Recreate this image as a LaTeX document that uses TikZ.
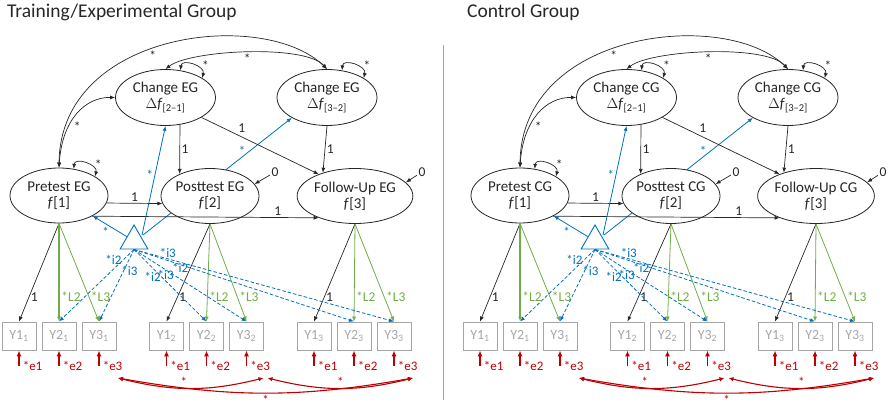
\documentclass[tikz,border=0pt]{standalone}
\usepackage{fontspec}
\setmainfont{Carlito}
\usepackage{tikz}
\usetikzlibrary{arrows.meta}
\usetikzlibrary{shapes}

\definecolor{pathblue}{RGB}{0,112,192}
\definecolor{loadgreen}{RGB}{112,173,71}
\definecolor{errred}{RGB}{192,0,0}
\definecolor{boxgray}{RGB}{166,166,166}
\definecolor{ink}{RGB}{38,38,38}

\tikzset{
  title/.style={anchor=base west, inner sep=0pt, text=ink, font=\fontsize{19.5}{20}\selectfont},
  latent/.style={draw=ink, line width=0.8pt, ellipse, fill=white, minimum width=98pt, minimum height=55pt,
    inner sep=0pt, align=center, text=ink, font=\fontsize{15}{16}\selectfont},
  change/.style={latent, minimum width=100pt, minimum height=56pt},
  indicator/.style={draw=boxgray, line width=0.9pt, minimum width=34pt, minimum height=28pt, inner sep=0pt,
    text=boxgray, font=\fontsize{14}{14}\selectfont},
  meanbox/.style={regular polygon, regular polygon sides=3, draw=pathblue, line width=0.9pt, minimum size=32pt, inner sep=0pt},
  arr/.style={-{Latex[length=5pt,width=4pt]}, draw=ink, line width=0.7pt},
  dbl/.style={{Latex[length=5pt,width=4pt]}-{Latex[length=5pt,width=4pt]}, draw=ink, line width=0.7pt},
  garr/.style={-{Latex[length=5pt,width=4pt]}, draw=loadgreen, line width=0.8pt},
  barr/.style={-{Latex[length=5pt,width=4pt]}, draw=pathblue, line width=0.8pt},
  bdash/.style={barr, dash pattern=on 3.5pt off 2pt},
  errarr/.style={-{Latex[length=6pt,width=5pt]}, draw=errred, line width=1.6pt},
  errdbl/.style={{Latex[length=5pt,width=4.5pt]}-{Latex[length=5pt,width=4.5pt]}, draw=errred, line width=1.1pt},
  lbl/.style={inner sep=1.5pt, text=ink, font=\fontsize{13.5}{14}\selectfont},
  glbl/.style={lbl, text=loadgreen},
  blbl/.style={lbl, text=pathblue, font=\fontsize{13}{13}\selectfont},
  rlbl/.style={lbl, text=errred, font=\fontsize{13}{13}\selectfont},
  sepline/.style={draw=gray!70, line width=1pt}
}

\begin{document}
\begin{tikzpicture}[x=1pt,y=1pt]
\useasboundingbox (0,0) rectangle (888,-406);

\node[title] (tEG) at (7,-17.5) {Training/Experimental Group};
\node[title] (tCG) at (467,-17.5) {Control Group};
\coordinate (sepTop) at (443,-45);
\coordinate (sepBot) at (443,-400);
\draw[sepline] (sepTop) -- (sepBot);

\foreach \grp/\dx in {EG/0,CG/461}{
\begin{scope}[xshift=\dx pt]
  % latent factors
  \node[change] (chA\grp) at (165.5,-97.5) {Change \grp\\$\Delta$\textit{f}\textsubscript{[2--1]}};
  \node[change] (chB\grp) at (327,-97.5) {Change \grp\\$\Delta$\textit{f}\textsubscript{[3--2]}};
  \node[latent] (pre\grp) at (59,-195.5) {Pretest \grp\\\textit{f}[1]};
  \node[meanbox] (mean\grp) at (134,-241) {};
  % this mean path runs behind the posttest factor
  \draw[barr] ([shift={(9pt,6pt)}]mean\grp.center) -- (chB\grp.210) node[blbl, pos=.72, left=3pt] {*};
  \node[latent] (post\grp) at (210,-196) {Posttest \grp\\\textit{f}[2]};
  \node[latent] (fol\grp) at (355,-196) {Follow-Up \grp\\\textit{f}[3]};

  % observed scores and their residuals
  \foreach \tp/\bx in {1/59,2/206.5,3/354}{
    \foreach \i in {1,2,3}{
      \node[indicator] (y\grp\tp\i) at ({\bx+40*(\i-2)},-336) {Y\i\textsubscript{\tp}};
      \coordinate (e\grp\tp\i) at ({\bx+40*(\i-2)},-366);
      \draw[errarr] (e\grp\tp\i) -- (y\grp\tp\i) node[rlbl, pos=0, anchor=west, xshift=1.5pt] {*e\i};
    }
    \coordinate (c\grp\tp) at ({\bx+59},-378);
  }
  \draw[errdbl] (c\grp1) to[bend right=14] node[rlbl, pos=.45, above] {*} ([xshift=-2pt]c\grp2);
  \draw[errdbl] ([xshift=2pt]c\grp2) to[bend right=14] node[rlbl, pos=.5, above] {*} (c\grp3);
  \draw[errdbl] (c\grp1) to[bend right=10] node[rlbl, pos=.5, below] {*} (c\grp3);

  % loadings
  \foreach \fac/\tp/\w in {pre/1/1.8pt, post/2/0.8pt, fol/3/0.8pt}{
    \draw[arr] (\fac\grp.south) -- (y\grp\tp1.north) node[lbl, pos=.75, right] {1};
    \draw[garr, line width=\w] (\fac\grp.south) -- (y\grp\tp2.north) node[glbl, pos=.75, right] {*L2};
    \draw[garr] (\fac\grp.south) -- (y\grp\tp3.north) node[glbl, pos=.75, right] {*L3};
  }

  % fixed paths between factors
  \draw[arr] (pre\grp.-9) -- (post\grp.189) node[lbl, midway, above] {1};
  \draw[arr] (pre\grp.-32) -- (fol\grp.211) node[lbl, pos=.82, above] {1};
  \draw[arr] (chA\grp.-62) -- (post\grp.144) node[lbl, midway, right] {1};
  \draw[arr] (chA\grp.-29) -- (fol\grp.149) node[lbl, pos=.3, above right] {1};
  \draw[arr] (chB\grp.south) -- (fol\grp.144) node[lbl, midway, right] {1};

  % residual variances fixed to zero
  \node[lbl] (rPost\grp) at (275,-172) {0};
  \node[lbl] (rFol\grp) at (422,-172) {0};
  \draw[arr] (rPost\grp) -- (post\grp.15);
  \draw[arr] (rFol\grp) -- (fol\grp.15);

  % variances
  \foreach \fac in {pre,chA,chB}
    \draw[dbl] (\fac\grp.61) to[out=85,in=75,looseness=1.4] node[lbl, pos=.8, above right, inner sep=0.5pt] {*} (\fac\grp.28);

  % covariances
  \draw[dbl] (pre\grp.north) .. controls (60,-30) and (265,-8) .. (chB\grp.north) node[lbl, pos=.45, below] {*};
  \draw[dbl] (chA\grp.north) .. controls (190,-50) and (305,-44) .. (chB\grp.north) node[lbl, pos=.5, below] {*};
  \draw[dbl] (pre\grp.north) .. controls (62,-120) and (85,-97) .. (chA\grp.west) node[lbl, pos=.35, right=3pt] {*};

  % means
  \draw[barr] ([shift={(8pt,6pt)}]mean\grp.center) -- (chA\grp.south) node[blbl, pos=.55, left] {*};
  \draw[barr] (mean\grp) -- (pre\grp) node[blbl, midway, below left, inner sep=0.5pt] {*};

  % intercepts
  \draw[bdash] (mean\grp.south) -- (y\grp12.north) node[blbl, pos=.15, left, inner sep=1pt] {*i2};
  \draw[bdash] (mean\grp.south) -- (y\grp13.north) node[blbl, pos=.3, anchor=west, xshift=-4pt] {*i3};
  \draw[bdash] (mean\grp.south) -- (y\grp22.north) node[blbl, pos=.38, anchor=east, inner sep=0.5pt] {*i2};
  \draw[bdash] (mean\grp.south) -- (y\grp23.north) node[blbl, pos=.36, anchor=east, inner sep=0.5pt] {*i3};
  \draw[bdash] (mean\grp.south) -- (y\grp32.north) node[blbl, pos=.25, anchor=east, inner sep=0.5pt] {*i2};
  \draw[bdash] (mean\grp.south) -- (y\grp33.north) node[blbl, pos=.13, above, inner sep=0.5pt] {*i3};
\end{scope}
}
\end{tikzpicture}
\end{document}
